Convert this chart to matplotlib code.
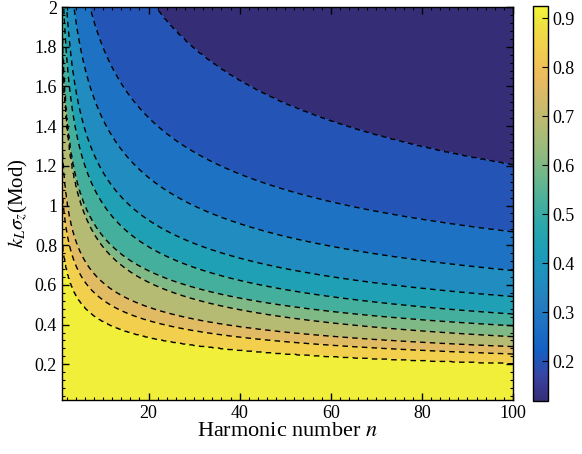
import numpy as np
import matplotlib
matplotlib.use('Agg')
import matplotlib.pyplot as plt
from matplotlib.colors import LinearSegmentedColormap, Normalize
from matplotlib.ticker import MultipleLocator, FormatStrFormatter
import matplotlib.cm as cm

plt.rcParams['font.family'] = ['Liberation Serif', 'DejaVu Serif']
plt.rcParams['mathtext.fontset'] = 'stix'

# contour levels (value of each dashed line), lowest first
levels = [0.20, 0.28, 0.36, 0.44, 0.52, 0.60, 0.68, 0.76, 0.84, 0.91]
# where each level crosses k_L sigma_z, read at n = 45 and n = 100
n_read = [44.5, 100.0]
ks_n45 = [1.573, 1.120, 0.877, 0.709, 0.600, 0.515, 0.457, 0.376, 0.326, 0.263]
ks_n100 = [1.204, 0.867, 0.672, 0.541, 0.453, 0.394, 0.339, 0.289, 0.252, 0.205]
z_min, z_max = 0.12, 0.925
cbar_ticks = [0.2, 0.3, 0.4, 0.5, 0.6, 0.7, 0.8, 0.9]

# parula-like colour map, slightly muted like the exported figure
pos = np.array([0, 4, 8, 12, 16, 20, 24, 28, 32, 36, 40, 44, 48, 52, 56, 60, 63]) / 63
rgb = np.array([
    (0.2081, 0.1663, 0.5292), (0.1959, 0.2645, 0.7279), (0.0117, 0.3875, 0.8820),
    (0.0498, 0.4586, 0.8641), (0.0793, 0.5200, 0.8312), (0.0343, 0.5966, 0.8199),
    (0.0228, 0.6535, 0.7768), (0.0843, 0.6928, 0.7062), (0.2178, 0.7250, 0.6193),
    (0.3953, 0.7459, 0.5244), (0.5709, 0.7485, 0.4494), (0.7184, 0.7411, 0.3905),
    (0.8507, 0.7299, 0.3360), (0.9739, 0.7314, 0.2666), (0.9880, 0.8066, 0.1794),
    (0.9589, 0.8949, 0.1132), (0.9763, 0.9831, 0.0538),
])
lum = rgb @ np.array([0.3, 0.59, 0.11])
rgb = rgb * 0.8 + lum[:, None] * 0.2
parula = LinearSegmentedColormap.from_list('parula', list(zip(pos, rgb)))
norm = Normalize(z_min, z_max)

# build the field: each level follows a power law in n through the two readings
n = np.linspace(1, 100, 500)
ks = np.linspace(0.02, 2, 500)
lv = np.array(levels)
p = np.log(np.array(ks_n45) / np.array(ks_n100)) / np.log(n_read[1] / n_read[0])
Z = np.zeros((len(ks), len(n)))
for j, nn in enumerate(n):
    cross = np.array(ks_n100) * (nn / n_read[1]) ** (-p)
    xp = np.concatenate([[0], cross[::-1], [100]])
    fp = np.concatenate([[z_max], lv[::-1], [z_min]])
    Z[:, j] = np.interp(ks, xp, fp)

fig = plt.figure(figsize=(5.82, 4.54), dpi=100)
ax = fig.add_axes([0.1065, 0.1189, 0.775, 0.8656])
cax = fig.add_axes([0.9158, 0.1174, 0.0258, 0.8694])

# each band takes the colour of its lower level
band_edges = [z_min - 1] + levels + [z_max + 1]
band_colors = parula(norm([z_min] + levels))
ax.contourf(n, ks, Z, levels=band_edges, colors=band_colors)
ax.contour(n, ks, Z, levels=levels, colors='black', linewidths=1.0,
           linestyles=[(0, (4, 3))])

ax.set_xlim(1, 100)
ax.set_ylim(0.02, 2)
ax.xaxis.set_major_locator(MultipleLocator(20))
ax.xaxis.set_minor_locator(MultipleLocator(2))
ax.yaxis.set_major_locator(MultipleLocator(0.2))
ax.yaxis.set_minor_locator(MultipleLocator(0.04))
ax.yaxis.set_major_formatter(FormatStrFormatter('%g'))
ax.tick_params(which='both', direction='in', top=True, right=True, labelsize=13)
ax.tick_params(which='major', length=5, width=1)
ax.tick_params(which='minor', length=2.5, width=0.8)
for s in ax.spines.values():
    s.set_linewidth(1)

ax.set_xlabel('Harmonic number $n$', fontsize=16, labelpad=0)
ax.set_ylabel('$k_L\\sigma_z$(Mod)', fontsize=15, labelpad=3)

sm = cm.ScalarMappable(norm=norm, cmap=parula)
cb = fig.colorbar(sm, cax=cax, ticks=cbar_ticks, format='%g')
cb.ax.tick_params(direction='in', labelsize=13, length=4)
cb.outline.set_linewidth(1)

plt.savefig('out.png', dpi=100)
